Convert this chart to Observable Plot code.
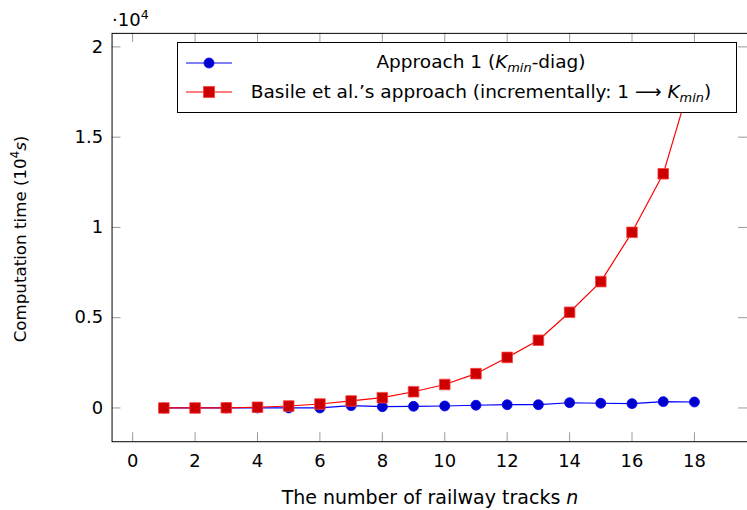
<!DOCTYPE html>
<html><head><meta charset="utf-8">
<script src="https://cdn.jsdelivr.net/npm/d3@7"></script>
<script src="https://cdn.jsdelivr.net/npm/@observablehq/plot@0.6"></script>
<style>
body{margin:0;overflow:hidden;background:#fff;font-family:"DejaVu Sans",sans-serif;}
#wrap{position:relative;width:747px;height:510px;overflow:hidden;}
#chart{position:absolute;left:0;top:0;}
.lbl{position:absolute;white-space:nowrap;color:#000;font-size:19px;}
.lbl sup{font-size:70%;}
#legend sub{font-size:70%;font-style:italic;}
#legend{position:absolute;left:177px;top:42px;width:560px;height:71px;background:#fff;border:1px solid #000;box-sizing:border-box;font-size:18.5px;}
.sw{position:absolute;left:8px;}
.t{position:absolute;left:58px;width:490px;text-align:center;white-space:nowrap;transform:translateY(-50%);}
</style></head><body><div id="wrap"><div id="chart"></div></div>
<script>
const tracks = [1,2,3,4,5,6,7,8,9,10,11,12,13,14,15,16,17,18];
const approach1 = [0,0,0,0,0,0,0.013,0.007,0.009,0.011,0.015,0.018,0.018,0.029,0.026,0.024,0.035,0.033];
const basile = [0,0,0.001,0.004,0.011,0.022,0.039,0.057,0.09,0.13,0.19,0.28,0.375,0.53,0.70,0.973,1.297,1.88];
const xTicks = [0,2,4,6,8,10,12,14,16,18];
const yTicks = [0,0.5,1,1.5,2];
const xDomain = [-0.66, 19.7];
const yDomain = [-0.187, 2.075];

const W = 750, H = 510, mL = 112, mR = 0, mT = 33, mB = 67;
const innerW = W - mL - mR, innerH = H - mT - mB, tk = 9;
const rowsA = tracks.map((n, i) => ({n, t: approach1[i]}));
const rowsB = tracks.map((n, i) => ({n, t: basile[i]}));

const chart = Plot.plot({
  width: W, height: H, marginLeft: mL, marginRight: mR, marginTop: mT, marginBottom: mB,
  style: {fontFamily: '"DejaVu Sans", sans-serif', fontSize: "18px", background: "white", color: "black"},
  x: {domain: xDomain},
  y: {domain: yDomain},
  marks: [
    Plot.ruleX(xTicks, {x: d => d, stroke: "#999", insetTop: innerH - tk}),
    Plot.ruleX(xTicks, {x: d => d, stroke: "#999", insetBottom: innerH - tk}),
    Plot.ruleY(yTicks, {y: d => d, stroke: "#999", insetRight: innerW - tk}),
    Plot.ruleY(yTicks, {y: d => d, stroke: "#999", insetLeft: innerW - tk}),
    Plot.line(rowsA, {x: "n", y: "t", stroke: "#0000ff", strokeWidth: 1.2, clip: true}),
    Plot.dot(rowsA, {x: "n", y: "t", r: 5, fill: "#0000cc", stroke: "#0000ff", strokeWidth: 0.8, clip: true}),
    Plot.line(rowsB, {x: "n", y: "t", stroke: "#ff0000", strokeWidth: 1.2, clip: true}),
    Plot.dot(rowsB, {x: "n", y: "t", r: 6, symbol: "square", fill: "#cc0000", stroke: "#ff4040", strokeWidth: 0.8, clip: true}),
    Plot.axisX(xTicks, {tickSize: 0, tickPadding: 13, fontSize: 18, tickFormat: d => String(d), label: null}),
    Plot.axisY(yTicks, {tickSize: 0, tickPadding: 9, fontSize: 18, tickFormat: d => String(d), label: null}),
    Plot.frame({stroke: "black", strokeWidth: 1})
  ]
});
document.getElementById("chart").appendChild(chart);

const wrap = document.getElementById("wrap");
function addLabel(html, x, y, extra, size) {
  const d = document.createElement("div");
  d.className = "lbl";
  d.innerHTML = html;
  d.style.left = x + "px";
  d.style.top = y + "px";
  if (size) d.style.fontSize = size + "px";
  d.style.transform = extra || "translate(-50%,-50%)";
  wrap.appendChild(d);
}
addLabel("·10<sup>4</sup>", 112, 18, "translate(0,-50%)", 18);
addLabel("Computation time (10<sup>4</sup><i>s</i>)", 18.5, 239, "translate(-50%,-50%) rotate(-90deg)", 16.7);
addLabel("The number of railway tracks <i>n</i>", 430, 497);

const legend = document.createElement("div");
legend.id = "legend";
const swatchA = '<svg class="sw" style="top:10px" width="46" height="20"><line x1="0" y1="10" x2="46" y2="10" stroke="#0000ff" stroke-width="1.2"/><circle cx="23" cy="10" r="5" fill="#0000cc" stroke="#0000ff" stroke-width="0.8"/></svg>';
const swatchB = '<svg class="sw" style="top:39px" width="46" height="20"><line x1="0" y1="10" x2="46" y2="10" stroke="#ff0000" stroke-width="1.2"/><rect x="17.5" y="4.5" width="11" height="11" fill="#cc0000" stroke="#ff4040" stroke-width="0.8"/></svg>';
legend.innerHTML = swatchA + swatchB +
  '<div class="t" style="top:20px">Approach 1 (<i>K</i><sub>min</sub>-diag)</div>' +
  '<div class="t" style="top:50px">Basile et al.\u2019s approach (incrementally: 1 \u27F6 <i>K</i><sub>min</sub>)</div>';
wrap.appendChild(legend);
</script>
</body></html>
